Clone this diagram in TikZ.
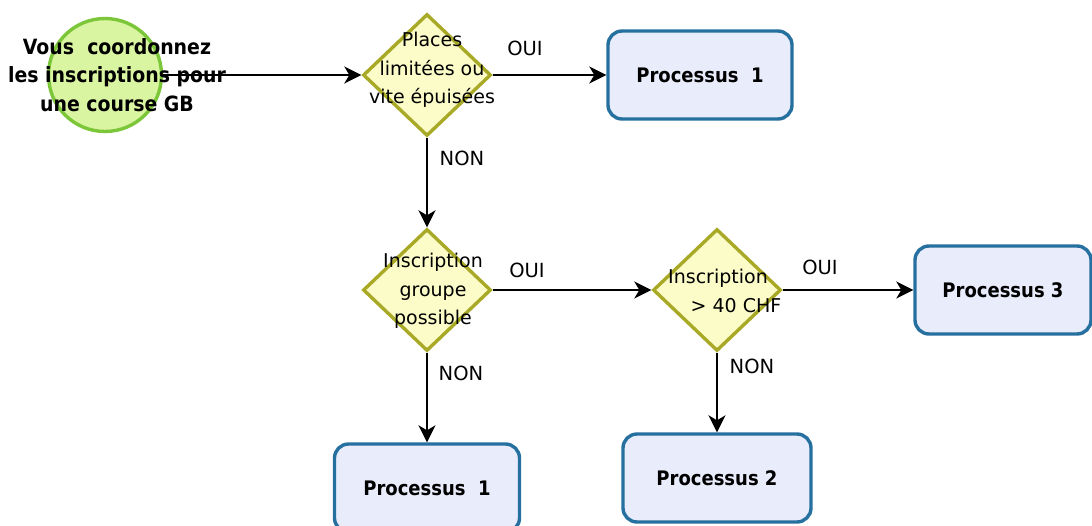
\documentclass[tikz,border=0pt]{standalone}
\usepackage{fontspec}
\setmainfont{DejaVu Sans}
\newfontfamily\condb{DejaVu Sans Condensed Bold}
\usetikzlibrary{shapes.geometric,arrows.meta}
\definecolor{dfill}{HTML}{FCFCC8}
\definecolor{ddraw}{HTML}{A9A928}
\definecolor{cfill}{HTML}{DAF5A2}
\definecolor{cdraw}{HTML}{7CC63A}
\definecolor{bfill}{HTML}{E9ECFB}
\definecolor{bdraw}{HTML}{2670A0}
\begin{document}
\begin{tikzpicture}[x=1pt,y=-1pt,
 dec/.style={diamond, draw=ddraw, fill=dfill, line width=3.4pt, minimum width=128pt, minimum height=122pt, inner sep=0pt},
 proc/.style={rectangle, rounded corners=14pt, draw=bdraw, fill=bfill, line width=3.4pt, minimum height=88pt, font=\condb\fontsize{20}{24}\selectfont},
 lbl/.style={font=\fontsize{19.5}{24}\selectfont, inner sep=0pt},
 dtext/.style={font=\fontsize{19}{28.5}\selectfont, align=center, inner sep=0pt},
 arr/.style={-{Stealth[length=17pt,width=17pt,inset=5pt]}, line width=1.8pt}
]
\useasboundingbox (0,0) rectangle (1092,525);
% start circle
\node[circle, draw=cdraw, fill=cfill, line width=3.4pt, minimum size=113pt, inner sep=0pt] (start) at (105,75) {};
\node[font=\condb\fontsize{21}{28.5}\selectfont, align=center, inner sep=0pt] (starttxt) at (117,75) {Vous\ \ coordonnez\\les inscriptions pour\\une course GB};
% decisions
\node[dec] (d1) at (427,75) {};
\node[dtext] (d1t) at (432,70) {Places\\limitées ou\\vite épuisées};
\node[dec] (d2) at (427,290) {};
\node[dtext] (d2t) at (433,291) {Inscription\\groupe\\possible};
\node[dec] (d3) at (717,290) {};
\node[dtext] (d3t) at (718,291) {Inscription\\\hspace*{36pt}> 40 CHF};
% processes
\node[proc, minimum width=184pt] (p1) at (700,75) {Processus\ \ 1};
\node[proc, minimum width=176pt] (p3) at (1003,290) {Processus 3};
\node[proc, minimum width=185pt] (p1b) at (427,488) {Processus\ \ 1};
\node[proc, minimum width=188pt] (p2) at (717,478) {Processus 2};
% connectors
\draw[arr] (start) -- (d1);
\draw[arr] (d1) -- (p1);
\draw[arr] (d1) -- (d2);
\draw[arr] (d2) -- (d3);
\draw[arr] (d3) -- (p3);
\draw[arr] (d2) -- (p1b);
\draw[arr] (d3) -- (p2);
% labels
\node[lbl] (l1) at (525,48) {OUI};
\node[lbl] (l2) at (462,158) {NON};
\node[lbl] (l3) at (527,270) {OUI};
\node[lbl] (l4) at (820,267) {OUI};
\node[lbl] (l5) at (461,373) {NON};
\node[lbl] (l6) at (752,366) {NON};
\end{tikzpicture}
\end{document}
